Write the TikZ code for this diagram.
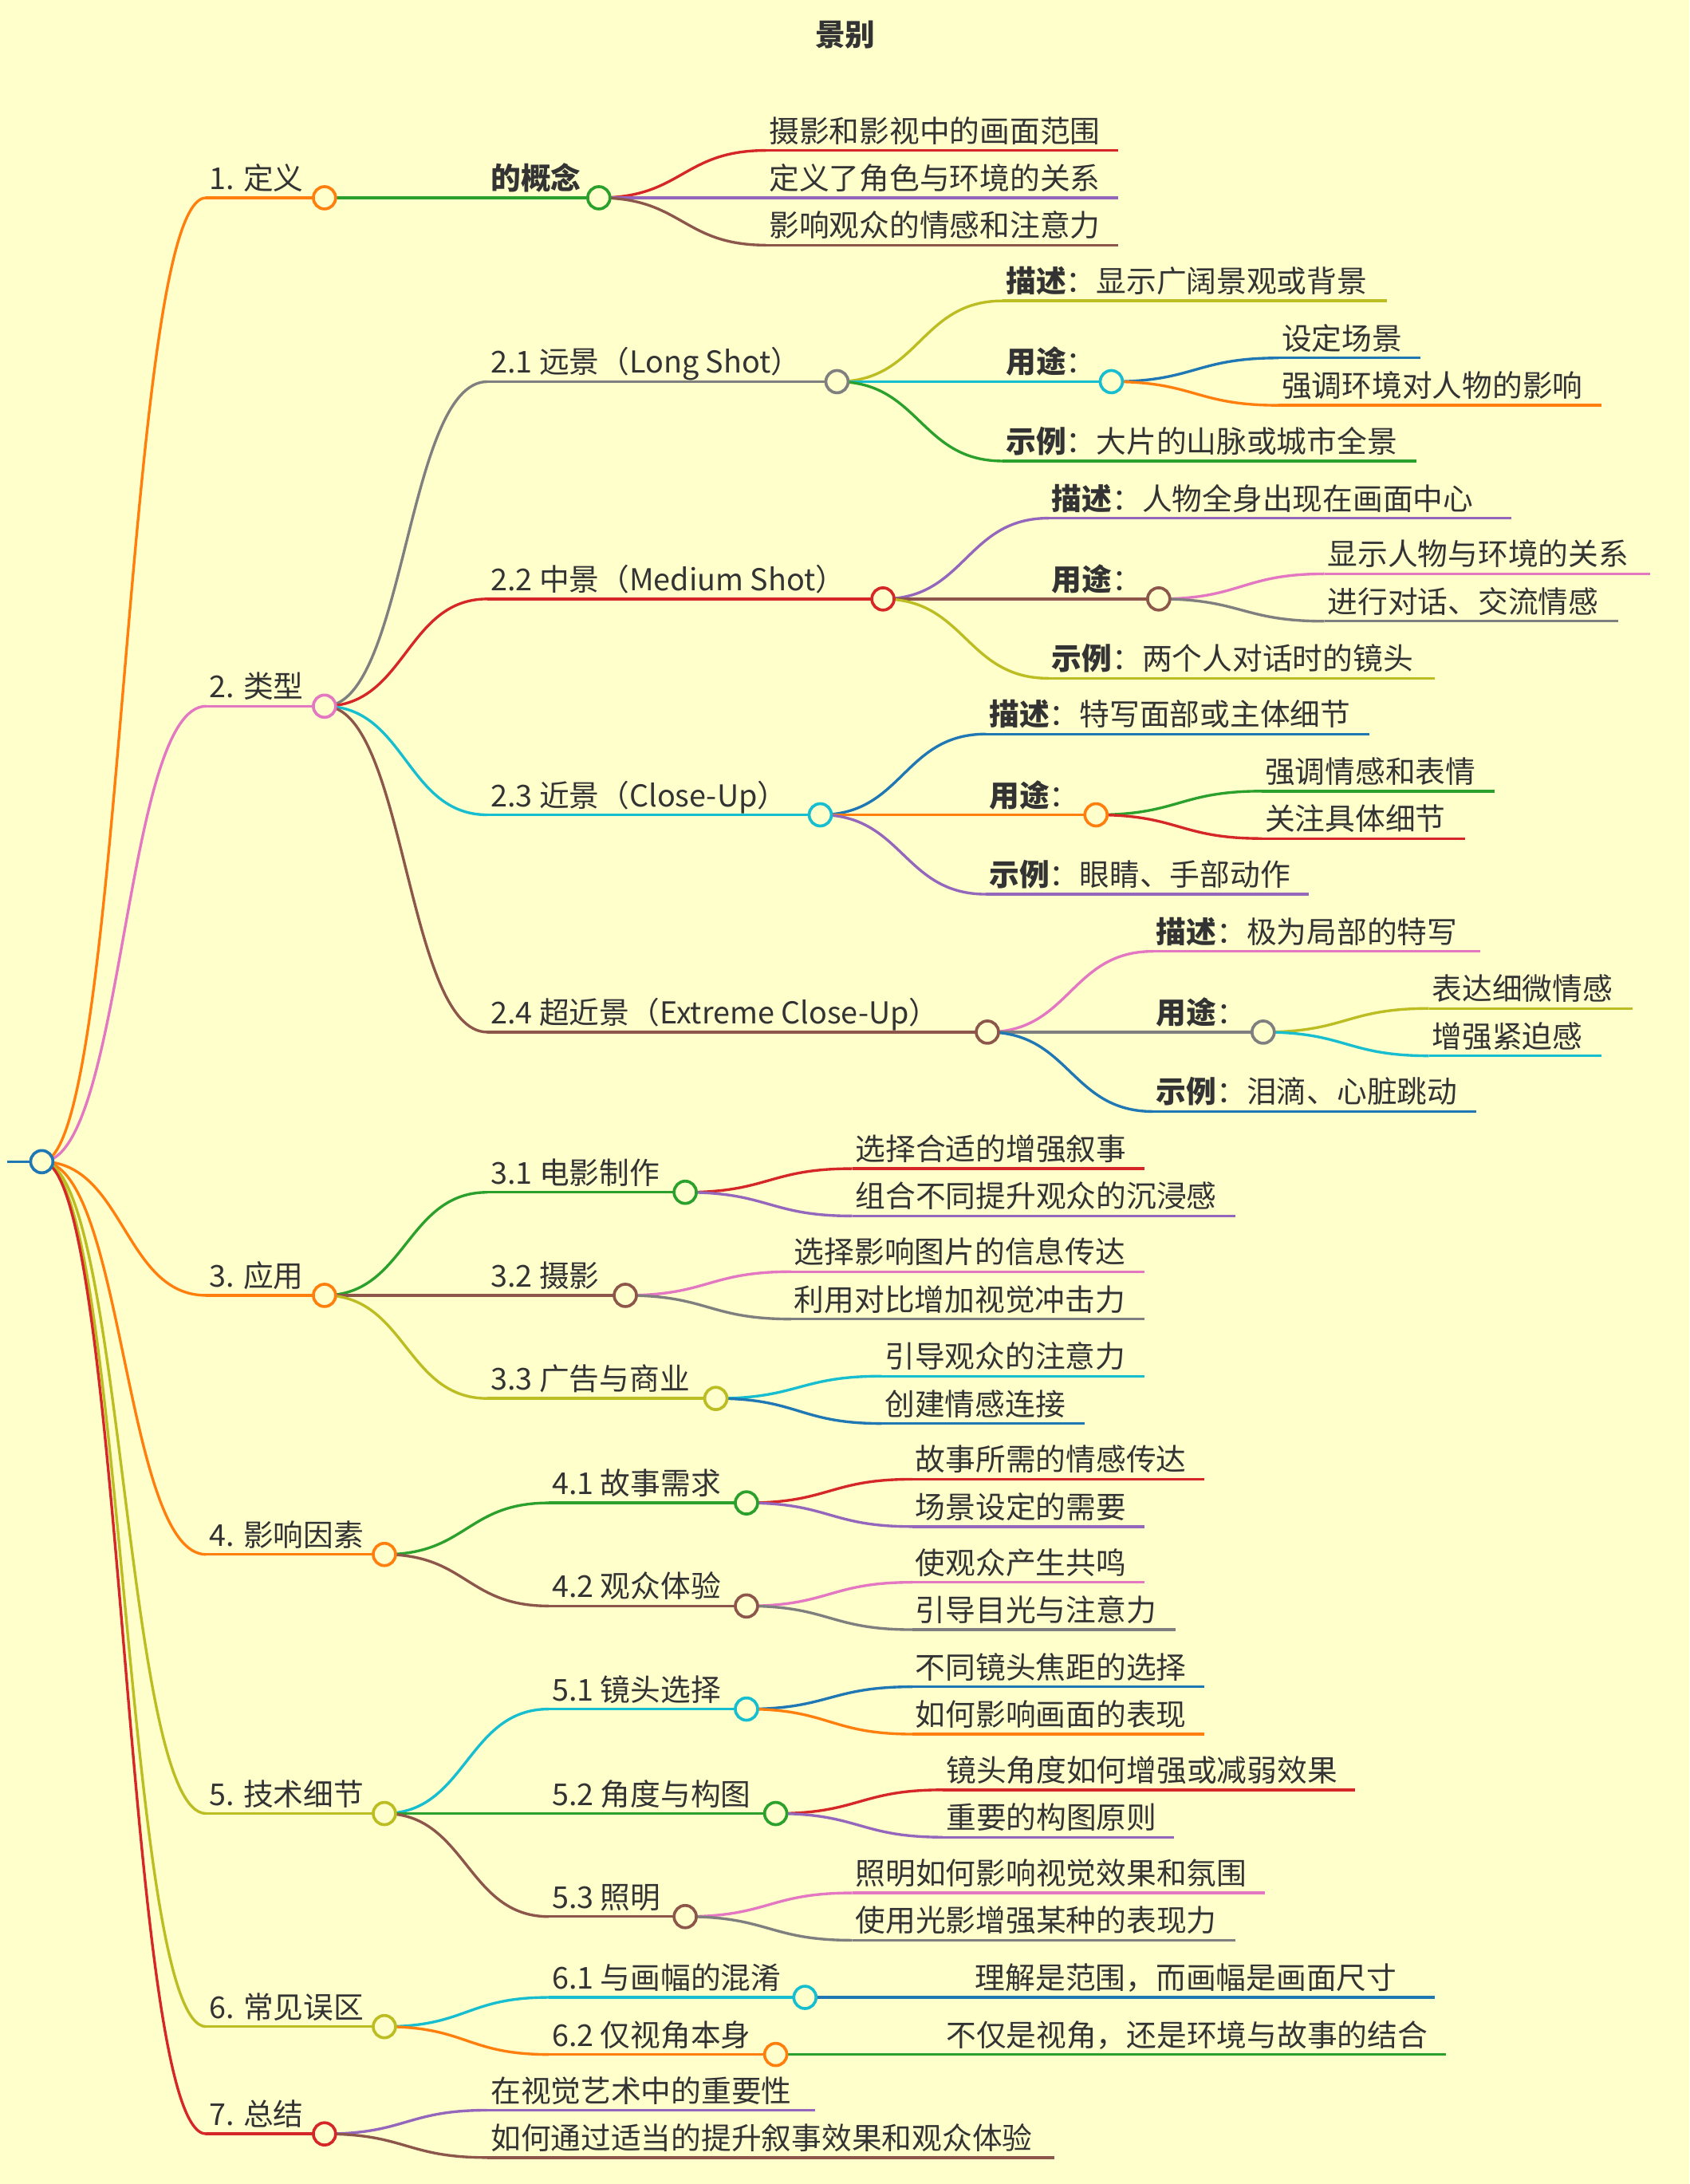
\documentclass[tikz,border=0pt]{standalone}
\usepackage{fontspec}
\setmainfont{Noto Sans CJK SC}
\usetikzlibrary{calc}
\definecolor{bg}{HTML}{FFFFCC}
\definecolor{ink}{HTML}{333333}
\definecolor{cor}{HTML}{FF7F0E}
\definecolor{cpk}{HTML}{E377C2}
\definecolor{col}{HTML}{BCBD22}
\definecolor{crd}{HTML}{D62728}
\definecolor{cgr}{HTML}{2CA02C}
\definecolor{cpu}{HTML}{9467BD}
\definecolor{cbr}{HTML}{8C564B}
\definecolor{cgy}{HTML}{7F7F7F}
\definecolor{ccy}{HTML}{17BECF}
\definecolor{cbl}{HTML}{1F77B4}
\tikzset{
  line/.style={line width=1.1pt},
  lbl/.style={text=ink, inner sep=0pt, font=\fontsize{12.3pt}{14pt}\selectfont},
  dot/.style={circle, fill=bg, line width=1.2pt, minimum size=0.32cm, inner sep=0pt},
}
% ligne + texte d'un noeud
\newcommand\mm[6]{%
  \coordinate (#1-s) at (#2,#4);
  \coordinate (#1-e) at (#3,#4);
  \draw[line,#5] (#1-s) -- (#1-e);
  \node[lbl, anchor=base west] (#1) at (#2+2,#4-6) {#6};}
% lien courbe parent -> enfant
\newcommand\mmlink[3]{%
  \draw[line,#3] let \p1=(#1-e), \p2=(#2-s), \n1={(\x2-\x1)/2} in
    (#1-e) .. controls +(\n1,0) and +(-\n1,0) .. (#2-s);}
\newcommand\mmdot[2]{\node[dot, draw=#2] (#1-d) at (#1-e) {};}
\begin{document}
\begin{tikzpicture}[x=0.02cm, y=-0.02cm]
  \fill[bg] (0,0) rectangle (1213,1568);
  \useasboundingbox (0,0) rectangle (1213,1568);
  \node[lbl, font=\fontsize{12.3pt}{14pt}\selectfont\bfseries] (title) at (607,25) {景别};

  % racine et niveau 1
  \mm{r}{5}{30}{834}{cbl}{}
  \mm{a}{148}{233}{142}{cor}{1. 定义}
  \mm{b}{148}{233}{507}{cpk}{2. 类型}
  \mm{c}{148}{233}{930}{cor}{3. 应用}
  \mm{d}{148}{276}{1116}{cor}{4. 影响因素}
  \mm{e}{148}{276}{1302}{col}{5. 技术细节}
  \mm{f}{148}{276}{1455}{col}{6. 常见误区}
  \mm{g}{148}{233}{1532}{crd}{7. 总结}

  % 1. 定义
  \mm{a1}{350}{430}{142}{cgr}{\textbf{的概念}}
  \mm{a11}{550}{803}{108}{crd}{摄影和影视中的画面范围}
  \mm{a12}{550}{803}{142}{cpu}{定义了角色与环境的关系}
  \mm{a13}{550}{803}{176}{cbr}{影响观众的情感和注意力}

  % 2. 类型
  \mm{b1}{350}{601}{274}{cgy}{2.1 远景（Long Shot）}
  \mm{b11}{720}{996}{216}{col}{\textbf{描述}：显示广阔景观或背景}
  \mm{b12}{720}{798}{274}{ccy}{\textbf{用途}：}
  \mm{b13}{720}{1017}{331}{cgr}{\textbf{示例}：大片的山脉或城市全景}
  \mm{b121}{918}{1020}{257}{cbl}{设定场景}
  \mm{b122}{918}{1150}{291}{cor}{强调环境对人物的影响}

  \mm{b2}{350}{634}{430}{crd}{2.2 中景（Medium Shot）}
  \mm{b21}{753}{1085}{372}{cpu}{\textbf{描述}：人物全身出现在画面中心}
  \mm{b22}{753}{832}{430}{cbr}{\textbf{用途}：}
  \mm{b23}{753}{1030}{487}{col}{\textbf{示例}：两个人对话时的镜头}
  \mm{b221}{951}{1185}{412}{cpk}{显示人物与环境的关系}
  \mm{b222}{951}{1162}{446}{cgy}{进行对话、交流情感}

  \mm{b3}{350}{589}{585}{ccy}{2.3 近景（Close-Up）}
  \mm{b31}{708}{983}{527}{cbl}{\textbf{描述}：特写面部或主体细节}
  \mm{b32}{708}{787}{585}{cor}{\textbf{用途}：}
  \mm{b33}{708}{940}{642}{cpu}{\textbf{示例}：眼睛、手部动作}
  \mm{b321}{906}{1073}{568}{cgr}{强调情感和表情}
  \mm{b322}{906}{1052}{602}{crd}{关注具体细节}

  \mm{b4}{350}{709}{741}{cbr}{2.4 超近景（Extreme Close-Up）}
  \mm{b41}{828}{1063}{683}{cpk}{\textbf{描述}：极为局部的特写}
  \mm{b42}{828}{907}{741}{cgy}{\textbf{用途}：}
  \mm{b43}{828}{1060}{798}{cbl}{\textbf{示例}：泪滴、心脏跳动}
  \mm{b421}{1026}{1172}{724}{col}{表达细微情感}
  \mm{b422}{1026}{1150}{758}{ccy}{增强紧迫感}

  % 3. 应用
  \mm{c1}{350}{492}{856}{cgr}{3.1 电影制作}
  \mm{c11}{612}{822}{839}{crd}{选择合适的增强叙事}
  \mm{c12}{612}{887}{873}{cpu}{组合不同提升观众的沉浸感}
  \mm{c2}{350}{449}{930}{cbr}{3.2 摄影}
  \mm{c21}{568}{822}{913}{cpk}{选择影响图片的信息传达}
  \mm{c22}{568}{822}{947}{cgy}{利用对比增加视觉冲击力}
  \mm{c3}{350}{514}{1004}{col}{3.3 广告与商业}
  \mm{c31}{633}{822}{988}{ccy}{引导观众的注意力}
  \mm{c32}{633}{779}{1022}{cbl}{创建情感连接}

  % 4. 影响因素
  \mm{d1}{394}{536}{1079}{cgr}{4.1 故事需求}
  \mm{d11}{655}{865}{1062}{crd}{故事所需的情感传达}
  \mm{d12}{655}{822}{1096}{cpu}{场景设定的需要}
  \mm{d2}{394}{536}{1153}{cbr}{4.2 观众体验}
  \mm{d21}{655}{822}{1136}{cpk}{使观众产生共鸣}
  \mm{d22}{655}{844}{1170}{cgy}{引导目光与注意力}

  % 5. 技术细节
  \mm{e1}{394}{536}{1227}{ccy}{5.1 镜头选择}
  \mm{e11}{655}{865}{1211}{cbl}{不同镜头焦距的选择}
  \mm{e12}{655}{865}{1245}{cor}{如何影响画面的表现}
  \mm{e2}{394}{557}{1302}{cgr}{5.2 角度与构图}
  \mm{e21}{677}{973}{1285}{crd}{镜头角度如何增强或减弱效果}
  \mm{e22}{677}{843}{1319}{cpu}{重要的构图原则}
  \mm{e3}{394}{492}{1376}{cbr}{5.3 照明}
  \mm{e31}{612}{908}{1359}{cpk}{照明如何影响视觉效果和氛围}
  \mm{e32}{612}{887}{1393}{cgy}{使用光影增强某种的表现力}

  % 6. 常见误区
  \mm{f1}{394}{578}{1434}{ccy}{6.1 与画幅的混淆}
  \mm{f11}{698}{1030}{1434}{cbl}{理解是范围，而画幅是画面尺寸}
  \mm{f2}{394}{557}{1475}{cor}{6.2 仅视角本身}
  \mm{f21}{677}{1038}{1475}{cgr}{不仅是视角，还是环境与故事的结合}

  % 7. 总结
  \mm{g1}{350}{585}{1515}{cpu}{在视觉艺术中的重要性}
  \mm{g2}{350}{757}{1549}{cbr}{如何通过适当的提升叙事效果和观众体验}

  % liens
  \foreach \c/\k in {a/cor,b/cpk,c/cor,d/cor,e/col,f/col,g/crd} {\mmlink{r}{\c}{\k}}
  \mmlink{a}{a1}{cgr}
  \foreach \c/\k in {a11/crd,a12/cpu,a13/cbr} {\mmlink{a1}{\c}{\k}}
  \foreach \c/\k in {b1/cgy,b2/crd,b3/ccy,b4/cbr} {\mmlink{b}{\c}{\k}}
  \foreach \c/\k in {b11/col,b12/ccy,b13/cgr} {\mmlink{b1}{\c}{\k}}
  \foreach \c/\k in {b121/cbl,b122/cor} {\mmlink{b12}{\c}{\k}}
  \foreach \c/\k in {b21/cpu,b22/cbr,b23/col} {\mmlink{b2}{\c}{\k}}
  \foreach \c/\k in {b221/cpk,b222/cgy} {\mmlink{b22}{\c}{\k}}
  \foreach \c/\k in {b31/cbl,b32/cor,b33/cpu} {\mmlink{b3}{\c}{\k}}
  \foreach \c/\k in {b321/cgr,b322/crd} {\mmlink{b32}{\c}{\k}}
  \foreach \c/\k in {b41/cpk,b42/cgy,b43/cbl} {\mmlink{b4}{\c}{\k}}
  \foreach \c/\k in {b421/col,b422/ccy} {\mmlink{b42}{\c}{\k}}
  \foreach \c/\k in {c1/cgr,c2/cbr,c3/col} {\mmlink{c}{\c}{\k}}
  \foreach \c/\k in {c11/crd,c12/cpu} {\mmlink{c1}{\c}{\k}}
  \foreach \c/\k in {c21/cpk,c22/cgy} {\mmlink{c2}{\c}{\k}}
  \foreach \c/\k in {c31/ccy,c32/cbl} {\mmlink{c3}{\c}{\k}}
  \foreach \c/\k in {d1/cgr,d2/cbr} {\mmlink{d}{\c}{\k}}
  \foreach \c/\k in {d11/crd,d12/cpu} {\mmlink{d1}{\c}{\k}}
  \foreach \c/\k in {d21/cpk,d22/cgy} {\mmlink{d2}{\c}{\k}}
  \foreach \c/\k in {e1/ccy,e2/cgr,e3/cbr} {\mmlink{e}{\c}{\k}}
  \foreach \c/\k in {e11/cbl,e12/cor} {\mmlink{e1}{\c}{\k}}
  \foreach \c/\k in {e21/crd,e22/cpu} {\mmlink{e2}{\c}{\k}}
  \foreach \c/\k in {e31/cpk,e32/cgy} {\mmlink{e3}{\c}{\k}}
  \foreach \c/\k in {f1/ccy,f2/cor} {\mmlink{f}{\c}{\k}}
  \mmlink{f1}{f11}{cbl}
  \mmlink{f2}{f21}{cgr}
  \foreach \c/\k in {g1/cpu,g2/cbr} {\mmlink{g}{\c}{\k}}

  % cercles
  \foreach \n/\k in {r/cbl,a/cor,b/cpk,c/cor,d/cor,e/col,f/col,g/crd,a1/cgr,
    b1/cgy,b12/ccy,b2/crd,b22/cbr,b3/ccy,b32/cor,b4/cbr,b42/cgy,
    c1/cgr,c2/cbr,c3/col,d1/cgr,d2/cbr,e1/ccy,e2/cgr,e3/cbr,f1/ccy,f2/cor}
    {\mmdot{\n}{\k}}
\end{tikzpicture}
\end{document}
